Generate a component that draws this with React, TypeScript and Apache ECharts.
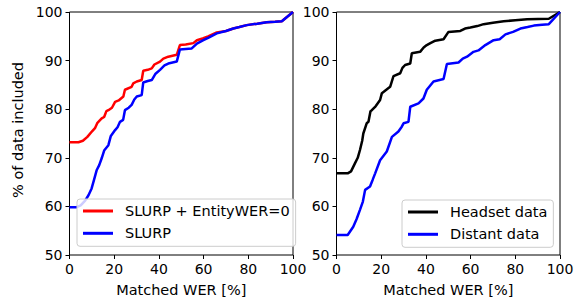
import React, { useEffect, useRef } from "react";
import * as echarts from "echarts";

const xTicks = [0, 20, 40, 60, 80, 100];
const yTicks = [50, 60, 70, 80, 90, 100];

const slurpEntityX = [0, 4, 6, 8, 10, 11.4, 12.5, 14.4, 15.5, 16.5, 17.4, 19, 20.4, 22, 24.1, 24.8, 27.8, 28.5, 30.1, 32.3, 33.0, 35, 36.8, 38, 40.5, 42, 44.2, 48.0, 49.4, 52, 55.4, 57, 59.9, 62, 65.9, 70, 73.3, 76, 79.3, 84, 88.2, 92, 95, 100];
const slurpEntityY = [73.2, 73.2, 73.5, 74.3, 75.4, 76.1, 77.2, 78.1, 78.4, 79.6, 79.8, 80.3, 81.5, 81.8, 82.6, 84.0, 84.6, 85.3, 85.7, 86.0, 87.9, 88.1, 88.4, 89.2, 89.8, 90.4, 90.8, 91.2, 93.2, 93.3, 93.6, 94.2, 94.6, 95.0, 95.8, 96.1, 96.6, 96.9, 97.3, 97.6, 97.9, 98.0, 98.1, 100];

const slurpX = [0, 3, 5, 7, 8.5, 9.9, 11, 12.2, 13.3, 14.4, 15.5, 17.4, 18.5, 20.4, 21.5, 22.6, 24, 24.8, 26.5, 27.8, 29, 30.1, 32.3, 33.0, 35, 36.8, 38.5, 40.5, 42.5, 44.2, 48.0, 49.4, 52, 54.7, 57, 59.9, 62.5, 65.9, 70, 73.3, 76, 79.3, 84, 88.2, 92, 95, 100];
const slurpY = [59.8, 59.8, 60.2, 61.2, 62.3, 63.7, 65.5, 67.5, 68.5, 69.9, 71.5, 72.6, 74.5, 75.7, 76.3, 77.4, 77.8, 79.8, 80.3, 80.9, 82.0, 82.6, 82.9, 85.5, 85.8, 86.0, 87.3, 88.1, 89.0, 89.4, 89.8, 92.3, 92.4, 92.5, 93.5, 94.2, 94.8, 95.6, 96.1, 96.6, 96.9, 97.3, 97.6, 97.9, 98.0, 98.1, 100];

const headsetX = [0, 5, 6.5, 8.3, 9.5, 10.5, 11.5, 12.0, 13.5, 14.3, 15.2, 15.8, 17.5, 19.5, 20.3, 22, 24.0, 25.5, 28.5, 29.5, 30.7, 33.0, 33.7, 37.4, 39, 40.4, 42, 44.2, 47.9, 50.1, 55.4, 57.5, 59.9, 63, 65.8, 70, 74.8, 80, 85.3, 95.0, 100];
const headsetY = [66.8, 66.8, 67.2, 68.9, 70.0, 71.6, 73.5, 75.0, 77.1, 77.4, 79.6, 79.8, 80.6, 81.9, 83.3, 83.9, 84.6, 86.8, 87.4, 88.5, 89.1, 89.4, 91.5, 91.8, 92.7, 93.2, 93.6, 94.1, 94.4, 95.9, 96.1, 96.6, 96.8, 97.1, 97.5, 97.8, 98.1, 98.3, 98.5, 98.6, 100];

const distantX = [0, 5, 7.5, 9, 10.5, 11.8, 12.8, 15.0, 16.2, 17.3, 19.5, 22.5, 24.8, 27.7, 29.2, 30.0, 32.2, 33.0, 36.7, 38.9, 40.4, 43.4, 47.9, 49.4, 54.6, 56.5, 58.4, 61.3, 63.5, 66.6, 70.3, 73, 75.6, 79, 82.3, 85.5, 88.3, 92, 95, 100];
const distantY = [54.1, 54.1, 55.8, 57.4, 59.3, 61.0, 63.4, 64.1, 65.5, 66.8, 69.5, 71.3, 74.3, 75.4, 76.4, 77.1, 77.4, 80.5, 81.2, 82.2, 84.0, 85.7, 86.2, 89.3, 89.6, 90.4, 90.8, 91.8, 92.1, 93.2, 94.2, 94.4, 95.4, 95.9, 96.6, 96.9, 97.2, 97.4, 97.5, 100];

const xLabel = "Matched WER [%]";
const yLabel = "% of data included";

const FONT = "DejaVu Sans";

function pairs(xs: number[], ys: number[]) {
  return xs.map((x, i) => [x, ys[i]]);
}

export default function App() {
  const ref = useRef<HTMLDivElement>(null);
  useEffect(() => {
    if (!ref.current) return;
    const chart = echarts.init(ref.current, null, { renderer: "svg" });
    const tickFont = 14;
    const labelFont = 14.5;
    const xAxisBase = (gridIndex: number) => ({
      type: "value",
      gridIndex,
      min: xTicks[0],
      max: xTicks[xTicks.length - 1],
      interval: xTicks[1] - xTicks[0],
      name: xLabel,
      nameLocation: "middle",
      nameGap: 27,
      nameTextStyle: { fontFamily: FONT, fontSize: labelFont, color: "#000" },
      axisLine: { show: false },
      axisTick: { show: true, inside: false, length: 4, lineStyle: { color: "#000", width: 1 } },
      axisLabel: { margin: 7, fontFamily: FONT, fontSize: tickFont, color: "#000" },
      splitLine: { show: false },
    });
    const yAxisBase = (gridIndex: number) => ({
      type: "value",
      gridIndex,
      min: yTicks[0],
      max: yTicks[yTicks.length - 1],
      interval: yTicks[1] - yTicks[0],
      axisLine: { show: false },
      axisTick: { show: true, inside: false, length: 4, lineStyle: { color: "#000", width: 1 } },
      axisLabel: { margin: 7, fontFamily: FONT, fontSize: tickFont, color: "#000" },
      splitLine: { show: false },
    });
    const legendBase = {
      orient: "vertical",
      padding: [4, 6, 5, 6],
      itemWidth: 30,
      itemHeight: 3,
      itemGap: 6.3,
      icon: "rect",
      borderColor: "#cccccc",
      borderWidth: 1,
      borderRadius: 3,
      backgroundColor: "rgba(255,255,255,0.8)",
      textStyle: { fontFamily: FONT, fontSize: labelFont, color: "#000", lineHeight: 16, padding: [0, 0, 0, 7] },
    };
    const line = (name: string, color: string, xs: number[], ys: number[], idx: number) => ({
      type: "line",
      name,
      xAxisIndex: idx,
      yAxisIndex: idx,
      data: pairs(xs, ys),
      symbol: "none",
      showSymbol: false,
      lineStyle: { color, width: 2.5 },
      itemStyle: { color },
      clip: false,
    });
    chart.setOption({
      animation: false,
      textStyle: { fontFamily: FONT },
      grid: [
        { left: 69.5, top: 12, width: 223.5, height: 243, show: true, borderColor: "#000", borderWidth: 1, backgroundColor: "transparent" },
        { left: 336.5, top: 12, width: 223.5, height: 243, show: true, borderColor: "#000", borderWidth: 1, backgroundColor: "transparent" },
      ],
      xAxis: [xAxisBase(0), xAxisBase(1)],
      yAxis: [yAxisBase(0), yAxisBase(1)],
      legend: [
        { ...legendBase, left: 77, top: 199, data: ["SLURP + EntityWER=0", "SLURP"] },
        { ...legendBase, left: 402, top: 200, data: ["Headset data", "Distant data"] },
      ],
      graphic: [
        {
          type: "text",
          x: 18,
          y: 130,
          rotation: Math.PI / 2,
          style: { text: yLabel, fontFamily: FONT, fontSize: labelFont, fill: "#000", textAlign: "center", textVerticalAlign: "middle" },
        },
      ],
      series: [
        line("SLURP + EntityWER=0", "#ff0000", slurpEntityX, slurpEntityY, 0),
        line("SLURP", "#0000ff", slurpX, slurpY, 0),
        line("Headset data", "#000000", headsetX, headsetY, 1),
        line("Distant data", "#0000ff", distantX, distantY, 1),
      ],
    });
    return () => chart.dispose();
  }, []);
  return <div ref={ref} style={{ position: "absolute", left: 0, top: 0, width: 581, height: 302 }} />;
}
